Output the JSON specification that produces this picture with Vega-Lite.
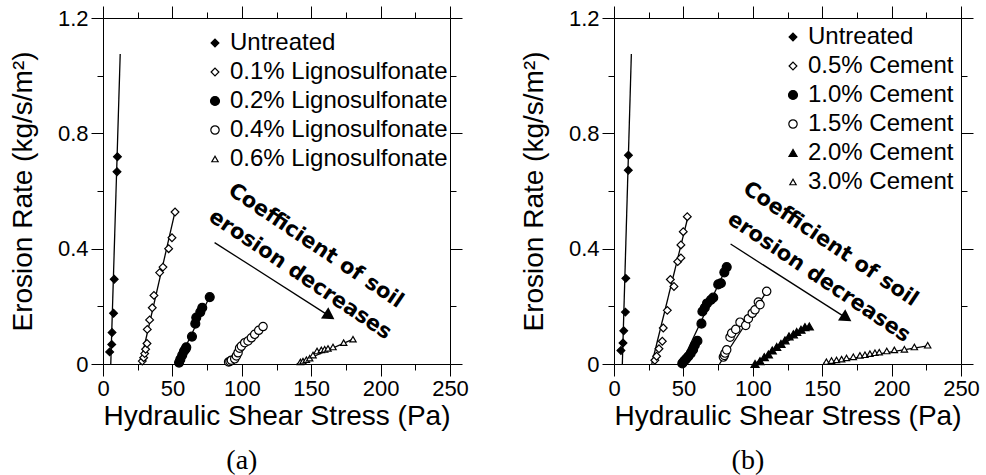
{
"$schema": "https://vega.github.io/schema/vega-lite/v6.json",
"padding": {"left": 9, "top": 5, "right": 0, "bottom": 0},
"background": "white",
"config": {
  "font": "Liberation Sans",
  "view": {"stroke": null},
  "axis": {"grid": false, "domainColor": "black", "tickColor": "black", "labelColor": "black", "titleColor": "black", "domainWidth": 1, "tickWidth": 1, "labelFont": "Liberation Sans", "titleFont": "Liberation Sans", "labelFontSize": 22, "titleFontSize": 28, "titleFontWeight": "normal", "labelFlush": false, "labelOverlap": false},
  "legend": {"orient": "none", "title": null, "labelFont": "Liberation Sans", "labelFontSize": 24, "labelColor": "black", "padding": 0, "rowPadding": 5, "labelOffset": 3, "symbolStrokeColor": "black", "symbolStrokeWidth": 1.2, "labelLimit": 0}
},
"datasets": {
  "ptsA": [
    {"series": "Untreated", "x": 4.8, "y": 0.042}, {"series": "Untreated", "x": 6.3, "y": 0.068}, {"series": "Untreated", "x": 6.5, "y": 0.109}, {"series": "Untreated", "x": 7.6, "y": 0.176}, {"series": "Untreated", "x": 8.1, "y": 0.294}, {"series": "Untreated", "x": 10.1, "y": 0.667}, {"series": "Untreated", "x": 10.4, "y": 0.719},
    {"series": "0.1% Lignosulfonate", "x": 28.3, "y": 0.010}, {"series": "0.1% Lignosulfonate", "x": 29.3, "y": 0.022}, {"series": "0.1% Lignosulfonate", "x": 30.0, "y": 0.036}, {"series": "0.1% Lignosulfonate", "x": 30.7, "y": 0.051}, {"series": "0.1% Lignosulfonate", "x": 31.7, "y": 0.071}, {"series": "0.1% Lignosulfonate", "x": 31.9, "y": 0.12}, {"series": "0.1% Lignosulfonate", "x": 33.6, "y": 0.153}, {"series": "0.1% Lignosulfonate", "x": 35.5, "y": 0.195}, {"series": "0.1% Lignosulfonate", "x": 36.7, "y": 0.238}, {"series": "0.1% Lignosulfonate", "x": 40.8, "y": 0.317}, {"series": "0.1% Lignosulfonate", "x": 43.2, "y": 0.336}, {"series": "0.1% Lignosulfonate", "x": 47.3, "y": 0.40}, {"series": "0.1% Lignosulfonate", "x": 49.7, "y": 0.438}, {"series": "0.1% Lignosulfonate", "x": 51.9, "y": 0.527},
    {"series": "0.2% Lignosulfonate", "x": 54.8, "y": 0.005}, {"series": "0.2% Lignosulfonate", "x": 55.7, "y": 0.016}, {"series": "0.2% Lignosulfonate", "x": 57.1, "y": 0.031}, {"series": "0.2% Lignosulfonate", "x": 58.4, "y": 0.045}, {"series": "0.2% Lignosulfonate", "x": 59.5, "y": 0.052}, {"series": "0.2% Lignosulfonate", "x": 60.0, "y": 0.058}, {"series": "0.2% Lignosulfonate", "x": 64.1, "y": 0.095}, {"series": "0.2% Lignosulfonate", "x": 66.5, "y": 0.140}, {"series": "0.2% Lignosulfonate", "x": 67.2, "y": 0.161}, {"series": "0.2% Lignosulfonate", "x": 70.1, "y": 0.180}, {"series": "0.2% Lignosulfonate", "x": 71.5, "y": 0.195}, {"series": "0.2% Lignosulfonate", "x": 76.9, "y": 0.232},
    {"series": "0.4% Lignosulfonate", "x": 90.5, "y": 0.007}, {"series": "0.4% Lignosulfonate", "x": 91.5, "y": 0.009}, {"series": "0.4% Lignosulfonate", "x": 92.5, "y": 0.013}, {"series": "0.4% Lignosulfonate", "x": 94.9, "y": 0.018}, {"series": "0.4% Lignosulfonate", "x": 96.1, "y": 0.028}, {"series": "0.4% Lignosulfonate", "x": 97.3, "y": 0.039}, {"series": "0.4% Lignosulfonate", "x": 98.4, "y": 0.055}, {"series": "0.4% Lignosulfonate", "x": 99.7, "y": 0.062}, {"series": "0.4% Lignosulfonate", "x": 102.1, "y": 0.074}, {"series": "0.4% Lignosulfonate", "x": 104.5, "y": 0.080}, {"series": "0.4% Lignosulfonate", "x": 106.9, "y": 0.091}, {"series": "0.4% Lignosulfonate", "x": 109.3, "y": 0.103}, {"series": "0.4% Lignosulfonate", "x": 112.2, "y": 0.117}, {"series": "0.4% Lignosulfonate", "x": 115.3, "y": 0.130},
    {"series": "0.6% Lignosulfonate", "x": 142.2, "y": 0.007}, {"series": "0.6% Lignosulfonate", "x": 144.1, "y": 0.010}, {"series": "0.6% Lignosulfonate", "x": 146.5, "y": 0.015}, {"series": "0.6% Lignosulfonate", "x": 148.9, "y": 0.020}, {"series": "0.6% Lignosulfonate", "x": 151.3, "y": 0.031}, {"series": "0.6% Lignosulfonate", "x": 154.2, "y": 0.045}, {"series": "0.6% Lignosulfonate", "x": 157.3, "y": 0.049}, {"series": "0.6% Lignosulfonate", "x": 159.7, "y": 0.051}, {"series": "0.6% Lignosulfonate", "x": 162.1, "y": 0.054}, {"series": "0.6% Lignosulfonate", "x": 165.7, "y": 0.059}, {"series": "0.6% Lignosulfonate", "x": 173.4, "y": 0.074}, {"series": "0.6% Lignosulfonate", "x": 180.1, "y": 0.086}
  ],
  "fitA": [
    {"series": "Untreated", "x": 5.6, "y": 0}, {"series": "Untreated", "x": 12.4, "y": 1.075},
    {"series": "0.1% Lignosulfonate", "x": 26.8, "y": 0}, {"series": "0.1% Lignosulfonate", "x": 52, "y": 0.53},
    {"series": "0.2% Lignosulfonate", "x": 53.5, "y": 0}, {"series": "0.2% Lignosulfonate", "x": 77, "y": 0.235},
    {"series": "0.4% Lignosulfonate", "x": 89.5, "y": 0}, {"series": "0.4% Lignosulfonate", "x": 116.2, "y": 0.135},
    {"series": "0.6% Lignosulfonate", "x": 139.5, "y": 0}, {"series": "0.6% Lignosulfonate", "x": 181, "y": 0.088}
  ],
  "ptsB": [
    {"series": "Untreated", "x": 5.0, "y": 0.047}, {"series": "Untreated", "x": 6.5, "y": 0.073}, {"series": "Untreated", "x": 7.0, "y": 0.115}, {"series": "Untreated", "x": 8.2, "y": 0.18}, {"series": "Untreated", "x": 8.5, "y": 0.297}, {"series": "Untreated", "x": 10.3, "y": 0.672}, {"series": "Untreated", "x": 10.4, "y": 0.724},
    {"series": "0.5% Cement", "x": 29.4, "y": 0.013}, {"series": "0.5% Cement", "x": 30.7, "y": 0.027}, {"series": "0.5% Cement", "x": 32.4, "y": 0.053}, {"series": "0.5% Cement", "x": 34.8, "y": 0.079}, {"series": "0.5% Cement", "x": 35.5, "y": 0.125}, {"series": "0.5% Cement", "x": 38.4, "y": 0.186}, {"series": "0.5% Cement", "x": 40.6, "y": 0.293}, {"series": "0.5% Cement", "x": 43.2, "y": 0.269}, {"series": "0.5% Cement", "x": 45.9, "y": 0.355}, {"series": "0.5% Cement", "x": 48.2, "y": 0.368}, {"series": "0.5% Cement", "x": 48.2, "y": 0.413}, {"series": "0.5% Cement", "x": 49.9, "y": 0.459}, {"series": "0.5% Cement", "x": 52.8, "y": 0.511},
    {"series": "1.0% Cement", "x": 49.2, "y": 0.002}, {"series": "1.0% Cement", "x": 50.5, "y": 0.01}, {"series": "1.0% Cement", "x": 52.0, "y": 0.018}, {"series": "1.0% Cement", "x": 53.5, "y": 0.026}, {"series": "1.0% Cement", "x": 55.3, "y": 0.037}, {"series": "1.0% Cement", "x": 57.0, "y": 0.05}, {"series": "1.0% Cement", "x": 58.2, "y": 0.065}, {"series": "1.0% Cement", "x": 60.1, "y": 0.08}, {"series": "1.0% Cement", "x": 63.0, "y": 0.14}, {"series": "1.0% Cement", "x": 63.7, "y": 0.182}, {"series": "1.0% Cement", "x": 65.4, "y": 0.195}, {"series": "1.0% Cement", "x": 67.0, "y": 0.21}, {"series": "1.0% Cement", "x": 69.7, "y": 0.222}, {"series": "1.0% Cement", "x": 71.5, "y": 0.23}, {"series": "1.0% Cement", "x": 75.1, "y": 0.276}, {"series": "1.0% Cement", "x": 77.0, "y": 0.28}, {"series": "1.0% Cement", "x": 79.5, "y": 0.318}, {"series": "1.0% Cement", "x": 81.2, "y": 0.336},
    {"series": "1.5% Cement", "x": 78.8, "y": 0.024}, {"series": "1.5% Cement", "x": 79.5, "y": 0.03}, {"series": "1.5% Cement", "x": 80.0, "y": 0.038}, {"series": "1.5% Cement", "x": 81.2, "y": 0.049}, {"series": "1.5% Cement", "x": 83.6, "y": 0.093}, {"series": "1.5% Cement", "x": 84.8, "y": 0.107}, {"series": "1.5% Cement", "x": 87.7, "y": 0.12}, {"series": "1.5% Cement", "x": 90.8, "y": 0.145}, {"series": "1.5% Cement", "x": 94.9, "y": 0.134}, {"series": "1.5% Cement", "x": 96.8, "y": 0.157}, {"series": "1.5% Cement", "x": 99.6, "y": 0.176}, {"series": "1.5% Cement", "x": 101.6, "y": 0.188}, {"series": "1.5% Cement", "x": 104.0, "y": 0.215}, {"series": "1.5% Cement", "x": 105.2, "y": 0.206}, {"series": "1.5% Cement", "x": 110.0, "y": 0.252},
    {"series": "2.0% Cement", "x": 101.6, "y": 0.0}, {"series": "2.0% Cement", "x": 105.2, "y": 0.010}, {"series": "2.0% Cement", "x": 108.3, "y": 0.024}, {"series": "2.0% Cement", "x": 111.2, "y": 0.033}, {"series": "2.0% Cement", "x": 114.0, "y": 0.047}, {"series": "2.0% Cement", "x": 117.2, "y": 0.059}, {"series": "2.0% Cement", "x": 120.3, "y": 0.070}, {"series": "2.0% Cement", "x": 123.2, "y": 0.082}, {"series": "2.0% Cement", "x": 126.1, "y": 0.096}, {"series": "2.0% Cement", "x": 129.2, "y": 0.103}, {"series": "2.0% Cement", "x": 131.6, "y": 0.111}, {"series": "2.0% Cement", "x": 134.7, "y": 0.119}, {"series": "2.0% Cement", "x": 137.6, "y": 0.128}, {"series": "2.0% Cement", "x": 140.7, "y": 0.130},
    {"series": "3.0% Cement", "x": 153.0, "y": 0.008}, {"series": "3.0% Cement", "x": 156.7, "y": 0.012}, {"series": "3.0% Cement", "x": 160.3, "y": 0.014}, {"series": "3.0% Cement", "x": 164.0, "y": 0.017}, {"series": "3.0% Cement", "x": 167.5, "y": 0.021}, {"series": "3.0% Cement", "x": 172.4, "y": 0.025}, {"series": "3.0% Cement", "x": 177.2, "y": 0.030}, {"series": "3.0% Cement", "x": 180.8, "y": 0.032}, {"series": "3.0% Cement", "x": 184.4, "y": 0.036}, {"series": "3.0% Cement", "x": 188.0, "y": 0.039}, {"series": "3.0% Cement", "x": 191.1, "y": 0.041}, {"series": "3.0% Cement", "x": 196.5, "y": 0.045}, {"series": "3.0% Cement", "x": 202.0, "y": 0.049}, {"series": "3.0% Cement", "x": 209.2, "y": 0.051}, {"series": "3.0% Cement", "x": 216.4, "y": 0.059}, {"series": "3.0% Cement", "x": 226.0, "y": 0.065}
  ],
  "fitB": [
    {"series": "Untreated", "x": 6.0, "y": 0}, {"series": "Untreated", "x": 12.5, "y": 1.075},
    {"series": "0.5% Cement", "x": 27.2, "y": 0}, {"series": "0.5% Cement", "x": 53.5, "y": 0.515},
    {"series": "1.0% Cement", "x": 48.3, "y": 0}, {"series": "1.0% Cement", "x": 81.5, "y": 0.34},
    {"series": "1.5% Cement", "x": 76, "y": 0}, {"series": "1.5% Cement", "x": 110.5, "y": 0.255},
    {"series": "2.0% Cement", "x": 101, "y": 0}, {"series": "2.0% Cement", "x": 141.5, "y": 0.133},
    {"series": "3.0% Cement", "x": 151, "y": 0.003}, {"series": "3.0% Cement", "x": 227, "y": 0.064}
  ],
  "noteA": [{"x": 153.3, "y": 0.409, "text": "Coefficient of soil"}, {"x": 142, "y": 0.309, "text": "erosion decreases"}],
  "arrowA": [{"x": 80.4, "y": 0.421, "x2": 163.2, "y2": 0.166}],
  "noteB": [{"x": 155.9, "y": 0.415, "text": "Coefficient of soil"}, {"x": 147.5, "y": 0.30, "text": "erosion decreases"}],
  "arrowB": [{"x": 84, "y": 0.416, "x2": 167.5, "y2": 0.159}]
},
"spacing": 51,
"resolve": {"scale": {"x": "independent", "y": "independent", "shape": "independent", "fill": "independent", "size": "independent", "stroke": "independent"}, "legend": {"shape": "independent", "fill": "independent", "size": "independent", "stroke": "independent"}},
"hconcat": [
  {
    "width": 347, "height": 346,
    "title": {"text": "(a)", "orient": "bottom", "anchor": "middle", "frame": "bounds", "font": "Liberation Serif", "fontSize": 28, "fontWeight": "normal", "color": "black", "offset": 17, "dx": 3},
    "resolve": {"axis": {"x": "independent", "y": "independent"}},
    "layer": [
      {
        "data": {"name": "fitA"},
        "mark": {"type": "line", "color": "black", "strokeWidth": 1.3},
        "encoding": {
          "x": {"field": "x", "type": "quantitative", "scale": {"domain": [0, 250], "nice": false, "zero": false}, "axis": {"orient": "bottom", "values": [0, 25, 50, 75, 100, 125, 150, 175, 200, 225, 250], "labelExpr": "datum.value % 50 === 0 ? format(datum.value, 'd') : ''", "tickSize": {"condition": {"test": "datum.value % 50 === 0", "value": 12}, "value": 6}, "labelPadding": 2, "title": "Hydraulic Shear Stress (Pa)", "titlePadding": 3}},
          "y": {"field": "y", "type": "quantitative", "scale": {"domain": [0, 1.2], "nice": false, "zero": false}, "axis": {"orient": "left", "values": [0, 0.2, 0.4, 0.6, 0.8, 1.0, 1.2], "labelExpr": "round(datum.value * 10) % 4 === 0 ? (datum.value === 0 ? '0' : format(datum.value, '.1f')) : ''", "tickSize": {"condition": {"test": "round(datum.value * 10) % 4 === 0", "value": 12}, "value": 6}, "labelPadding": 3, "title": "Erosion Rate (kg/s/m²)", "titlePadding": 20}},
          "detail": {"field": "series", "type": "nominal"}
        }
      },
      {
        "data": {"name": "ptsA"},
        "mark": {"type": "point", "strokeWidth": 1.2, "opacity": 1},
        "encoding": {
          "x": {"field": "x", "type": "quantitative", "scale": {"domain": [0, 250], "nice": false, "zero": false}, "axis": {"orient": "top", "values": [0, 25, 50, 75, 100, 125, 150, 175, 200, 225, 250], "labels": false, "title": null, "tickSize": {"condition": {"test": "datum.value % 50 === 0", "value": 12}, "value": 6}}},
          "y": {"field": "y", "type": "quantitative", "scale": {"domain": [0, 1.2], "nice": false, "zero": false}, "axis": {"orient": "right", "values": [0, 0.2, 0.4, 0.6, 0.8, 1.0, 1.2], "labels": false, "title": null, "tickSize": {"condition": {"test": "round(datum.value * 10) % 4 === 0", "value": 12}, "value": 6}}},
          "stroke": {"field": "series", "type": "nominal", "scale": {"domain": ["Untreated", "0.1% Lignosulfonate", "0.2% Lignosulfonate", "0.4% Lignosulfonate", "0.6% Lignosulfonate"], "range": ["black", "black", "black", "black", "black"]}, "legend": {"legendX": 100, "legendY": 13}},
          "shape": {"field": "series", "type": "nominal", "scale": {"domain": ["Untreated", "0.1% Lignosulfonate", "0.2% Lignosulfonate", "0.4% Lignosulfonate", "0.6% Lignosulfonate"], "range": ["diamond", "diamond", "circle", "circle", "triangle-up"]}, "legend": {"legendX": 100, "legendY": 13}},
          "fill": {"field": "series", "type": "nominal", "scale": {"domain": ["Untreated", "0.1% Lignosulfonate", "0.2% Lignosulfonate", "0.4% Lignosulfonate", "0.6% Lignosulfonate"], "range": ["black", "white", "black", "white", "white"]}, "legend": {"legendX": 100, "legendY": 13}},
          "size": {"field": "series", "type": "nominal", "scale": {"type": "ordinal", "domain": ["Untreated", "0.1% Lignosulfonate", "0.2% Lignosulfonate", "0.4% Lignosulfonate", "0.6% Lignosulfonate"], "range": [60, 60, 80, 70, 40]}, "legend": {"legendX": 100, "legendY": 13}}
        }
      },
      {
        "data": {"name": "noteA"},
        "mark": {"type": "text", "angle": 34, "font": "DejaVu Sans", "fontWeight": "bold", "fontSize": 21, "align": "center", "baseline": "middle", "color": "black"},
        "encoding": {
          "x": {"field": "x", "type": "quantitative", "scale": {"domain": [0, 250], "nice": false, "zero": false}, "axis": null},
          "y": {"field": "y", "type": "quantitative", "scale": {"domain": [0, 1.2], "nice": false, "zero": false}, "axis": null},
          "text": {"field": "text"}
        }
      },
      {
        "data": {"name": "arrowA"},
        "mark": {"type": "rule", "color": "black", "strokeWidth": 1.3},
        "encoding": {
          "x": {"field": "x", "type": "quantitative", "scale": {"domain": [0, 250], "nice": false, "zero": false}, "axis": null},
          "y": {"field": "y", "type": "quantitative", "scale": {"domain": [0, 1.2], "nice": false, "zero": false}, "axis": null},
          "x2": {"field": "x2"},
          "y2": {"field": "y2"}
        }
      },
      {
        "data": {"name": "arrowA"},
        "mark": {"type": "point", "shape": "triangle-right", "filled": true, "color": "black", "size": 180, "angle": 33, "opacity": 1},
        "encoding": {
          "x": {"field": "x2", "type": "quantitative", "scale": {"domain": [0, 250], "nice": false, "zero": false}, "axis": null},
          "y": {"field": "y2", "type": "quantitative", "scale": {"domain": [0, 1.2], "nice": false, "zero": false}, "axis": null}
        }
      }
    ]
  },
  {
    "width": 347, "height": 346,
    "title": {"text": "(b)", "orient": "bottom", "anchor": "middle", "frame": "bounds", "font": "Liberation Serif", "fontSize": 28, "fontWeight": "normal", "color": "black", "offset": 17, "dx": -2},
    "resolve": {"axis": {"x": "independent", "y": "independent"}},
    "layer": [
      {
        "data": {"name": "fitB"},
        "mark": {"type": "line", "color": "black", "strokeWidth": 1.3},
        "encoding": {
          "x": {"field": "x", "type": "quantitative", "scale": {"domain": [0, 250], "nice": false, "zero": false}, "axis": {"orient": "bottom", "values": [0, 25, 50, 75, 100, 125, 150, 175, 200, 225, 250], "labelExpr": "datum.value % 50 === 0 ? format(datum.value, 'd') : ''", "tickSize": {"condition": {"test": "datum.value % 50 === 0", "value": 12}, "value": 6}, "labelPadding": 2, "title": "Hydraulic Shear Stress (Pa)", "titlePadding": 3}},
          "y": {"field": "y", "type": "quantitative", "scale": {"domain": [0, 1.2], "nice": false, "zero": false}, "axis": {"orient": "left", "values": [0, 0.2, 0.4, 0.6, 0.8, 1.0, 1.2], "labelExpr": "round(datum.value * 10) % 4 === 0 ? (datum.value === 0 ? '0' : format(datum.value, '.1f')) : ''", "tickSize": {"condition": {"test": "round(datum.value * 10) % 4 === 0", "value": 12}, "value": 6}, "labelPadding": 3, "title": "Erosion Rate (kg/s/m²)", "titlePadding": 20}},
          "detail": {"field": "series", "type": "nominal"}
        }
      },
      {
        "data": {"name": "ptsB"},
        "mark": {"type": "point", "strokeWidth": 1.2, "opacity": 1},
        "encoding": {
          "x": {"field": "x", "type": "quantitative", "scale": {"domain": [0, 250], "nice": false, "zero": false}, "axis": {"orient": "top", "values": [0, 25, 50, 75, 100, 125, 150, 175, 200, 225, 250], "labels": false, "title": null, "tickSize": {"condition": {"test": "datum.value % 50 === 0", "value": 12}, "value": 6}}},
          "y": {"field": "y", "type": "quantitative", "scale": {"domain": [0, 1.2], "nice": false, "zero": false}, "axis": {"orient": "right", "values": [0, 0.2, 0.4, 0.6, 0.8, 1.0, 1.2], "labels": false, "title": null, "tickSize": {"condition": {"test": "round(datum.value * 10) % 4 === 0", "value": 12}, "value": 6}}},
          "stroke": {"field": "series", "type": "nominal", "scale": {"domain": ["Untreated", "0.5% Cement", "1.0% Cement", "1.5% Cement", "2.0% Cement", "3.0% Cement"], "range": ["black", "black", "black", "black", "black", "black"]}, "legend": {"legendX": 167, "legendY": 7}},
          "shape": {"field": "series", "type": "nominal", "scale": {"domain": ["Untreated", "0.5% Cement", "1.0% Cement", "1.5% Cement", "2.0% Cement", "3.0% Cement"], "range": ["diamond", "diamond", "circle", "circle", "triangle-up", "triangle-up"]}, "legend": {"legendX": 167, "legendY": 7}},
          "fill": {"field": "series", "type": "nominal", "scale": {"domain": ["Untreated", "0.5% Cement", "1.0% Cement", "1.5% Cement", "2.0% Cement", "3.0% Cement"], "range": ["black", "white", "black", "white", "black", "white"]}, "legend": {"legendX": 167, "legendY": 7}},
          "size": {"field": "series", "type": "nominal", "scale": {"type": "ordinal", "domain": ["Untreated", "0.5% Cement", "1.0% Cement", "1.5% Cement", "2.0% Cement", "3.0% Cement"], "range": [60, 60, 80, 70, 65, 40]}, "legend": {"legendX": 167, "legendY": 7}}
        }
      },
      {
        "data": {"name": "noteB"},
        "mark": {"type": "text", "angle": 34, "font": "DejaVu Sans", "fontWeight": "bold", "fontSize": 21, "align": "center", "baseline": "middle", "color": "black"},
        "encoding": {
          "x": {"field": "x", "type": "quantitative", "scale": {"domain": [0, 250], "nice": false, "zero": false}, "axis": null},
          "y": {"field": "y", "type": "quantitative", "scale": {"domain": [0, 1.2], "nice": false, "zero": false}, "axis": null},
          "text": {"field": "text"}
        }
      },
      {
        "data": {"name": "arrowB"},
        "mark": {"type": "rule", "color": "black", "strokeWidth": 1.3},
        "encoding": {
          "x": {"field": "x", "type": "quantitative", "scale": {"domain": [0, 250], "nice": false, "zero": false}, "axis": null},
          "y": {"field": "y", "type": "quantitative", "scale": {"domain": [0, 1.2], "nice": false, "zero": false}, "axis": null},
          "x2": {"field": "x2"},
          "y2": {"field": "y2"}
        }
      },
      {
        "data": {"name": "arrowB"},
        "mark": {"type": "point", "shape": "triangle-right", "filled": true, "color": "black", "size": 180, "angle": 33, "opacity": 1},
        "encoding": {
          "x": {"field": "x2", "type": "quantitative", "scale": {"domain": [0, 250], "nice": false, "zero": false}, "axis": null},
          "y": {"field": "y2", "type": "quantitative", "scale": {"domain": [0, 1.2], "nice": false, "zero": false}, "axis": null}
        }
      }
    ]
  }
]
}
